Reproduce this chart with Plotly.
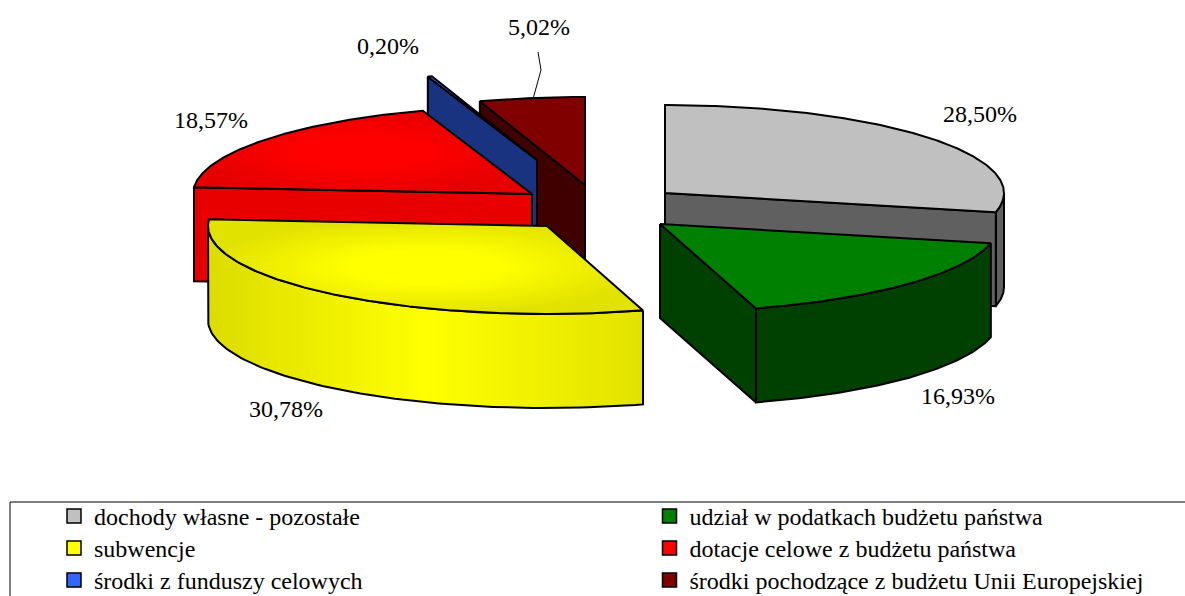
import numpy as np
import plotly.graph_objects as go

categories = ["dochody własne - pozostałe", "udział w podatkach budżetu państwa", "subwencje",
              "dotacje celowe z budżetu państwa", "środki z funduszy celowych",
              "środki pochodzące z budżetu Unii Europejskiej"]
shares = [28.50, 16.93, 30.78, 18.57, 0.20, 5.02]

top_colors = ["#C0C0C0", "#008000", "#FFFF00", "#FF0000", "#3366FF", "#800000"]
edge_colors = ["#C0C0C0", "#008000", "#E2E200", "#E60000", "#3366FF", "#800000"]
wall_colors = ["#606060", "#004000", "#FFFF00", "#E80000", "#1A3380", "#400000"]
apex_x = [665, 660, 547, 532, 537, 585]
apex_y = [193, 224, 226, 194, 160, 185]
label_x = [980, 958, 286, 211, 388, 539]
label_y = [116, 398, 411, 122, 48, 29]
draw_order = [0, 5, 4, 3, 2, 1]

RX, RY, DEPTH = 339, 88, 94
LW = 2
FONT = "Liberation Serif"
W, H = 1185, 596

fig = go.Figure()


def project(cx, cy, deg):
    t = np.radians(deg)
    return cx + RX * np.sin(t), cy - RY * np.cos(t)


def poly(x, y, color=None, gradient=None):
    x = list(x) + [x[0]]
    y = list(y) + [y[0]]
    kw = dict(fillgradient=gradient) if gradient else dict(fillcolor=color)
    fig.add_trace(go.Scatter(x=x, y=y, mode="lines", fill="toself", showlegend=False,
                             hoverinfo="skip", line=dict(color="black", width=LW), **kw))


edges = np.concatenate([[0], np.cumsum(shares)]) * 3.6
for i in draw_order:
    a0, a1 = edges[i], edges[i + 1]
    cx, cy = apex_x[i], apex_y[i]
    top, edge, wall = top_colors[i], edge_colors[i], wall_colors[i]
    wall_grad = None
    if i == 2:
        wall_grad = dict(type="horizontal",
                         colorscale=[[0, "#DCDC00"], [0.5, "#FFFF00"], [1, "#E2E200"]])
    # outer rim wall (only the part facing the viewer)
    lo, hi = max(a0, 90), min(a1, 270)
    if hi > lo:
        th = np.linspace(lo, hi, 80)
        ax, ay = project(cx, cy, th)
        poly(np.r_[ax, ax[::-1]], np.r_[ay, ay[::-1] + DEPTH], wall, wall_grad)
    # radial walls facing the viewer
    for ang, visible in ((a0, np.sin(np.radians(a0)) < -1e-6), (a1, np.sin(np.radians(a1)) > 1e-6)):
        if visible:
            ex, ey = project(cx, cy, ang)
            poly([cx, ex, ex, cx], [cy, ey, ey + DEPTH, cy + DEPTH], wall)
    # top face
    th = np.linspace(a0, a1, max(int(a1 - a0) * 2, 6))
    ax, ay = project(cx, cy, th)
    grad = None
    if edge != top:
        grad = dict(type="radial", colorscale=[[0, top], [0.35, top], [1, edge]])
    poly(np.r_[cx, ax], np.r_[cy, ay], top, grad)

# leader line of the smallest right-hand label
fig.add_trace(go.Scatter(x=[538, 541, 533], y=[52, 70, 99], mode="lines", showlegend=False,
                         hoverinfo="skip", line=dict(color="black", width=1)))

labels = [f"{v:.2f}".replace(".", ",") + "%" for v in shares]
fig.add_trace(go.Scatter(x=label_x, y=label_y, mode="text", text=labels, showlegend=False,
                         hoverinfo="skip", textposition="middle center",
                         textfont=dict(family=FONT, size=24, color="black")))

# one single-entry legend per cell, so the 32 px row pitch of the reference can be kept
legend_layout = {}
for i, name in enumerate(categories):
    key = "legend" if i == 0 else f"legend{i + 1}"
    row, col = i // 2, i % 2
    fig.add_trace(go.Scatter(x=[None], y=[None], mode="markers", name=name, legend=key,
                             marker=dict(symbol="square", size=14, color=top_colors[i],
                                         line=dict(color="black", width=1.5))))
    legend_layout[key] = dict(x=(54 if col == 0 else 649.5) / W, y=1 - (494 + 32 * row) / H,
                              bgcolor="rgba(0,0,0,0)", borderwidth=0,
                              yanchor="top", xanchor="left", itemwidth=30,
                              font=dict(family=FONT, size=24, color="black"),
                              itemclick=False, itemdoubleclick=False)

fig.update_layout(
    width=W, height=H, margin=dict(l=0, r=0, t=0, b=0, autoexpand=False),
    paper_bgcolor="white", plot_bgcolor="white",
    xaxis=dict(range=[0, W], visible=False, fixedrange=True),
    yaxis=dict(range=[H, 0], visible=False, fixedrange=True),
    showlegend=True,
    shapes=[dict(type="rect", xref="x", yref="y", x0=10, x1=1300, y0=502, y1=700,
                 line=dict(color="black", width=1), fillcolor="rgba(0,0,0,0)", layer="below")],
    **legend_layout,
)

fig.write_html("out.html", config=dict(displayModeBar=False),
               post_script="document.body.style.margin='0';")
